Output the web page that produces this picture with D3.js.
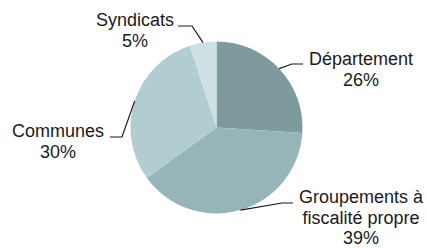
<!DOCTYPE html>
<html>
<head>
<meta charset="utf-8">
<script src="https://cdn.jsdelivr.net/npm/d3@7"></script>
<style>
  body { margin: 0; background: #fff; }
  text { font-family: "Liberation Sans", Arial, Helvetica, sans-serif; font-size: 18px; fill: #1a1a1a; }
</style>
</head>
<body>
<div id="chart"></div>
<script>
// values (clockwise from 12 o'clock)
const labels = ["Département", "Groupements à\nfiscalité propre", "Communes", "Syndicats"];
const values = [26, 39, 30, 5];
const colors = ["#7f9a9c", "#96b5b9", "#b1cdd1", "#cfe0e4"];

const w = 427, h = 248;
const cx = 216.5, cy = 127.5, r = 86;

// label layout: text anchor point + elbow of the leader line + end of leader line
const labelPos = [
    { x: 361, y: 65, elbow: [292, 64], end: [303, 64] },
    { x: 361, y: 203, elbow: [282, 203], end: [293, 203] },
    { x: 58, y: 137, elbow: [122, 137], end: [110, 137] },
    { x: 135, y: 26, elbow: [192, 26], end: [178, 26] }
];

const svg = d3.select("#chart").append("svg")
    .attr("width", w)
    .attr("height", h);

const pie = d3.pie().sort(null).value(d => d);
const arcs = pie(values);

const arc = d3.arc().innerRadius(0).outerRadius(r);

const g = svg.append("g").attr("transform", `translate(${cx},${cy})`);

g.selectAll("path")
    .data(arcs)
    .join("path")
    .attr("d", arc)
    .attr("fill", (d, i) => colors[i]);

// leader lines start on the rim at each slice's mid angle
const line = d3.line();
svg.append("g")
    .selectAll("path")
    .data(arcs)
    .join("path")
    .attr("fill", "none")
    .attr("stroke", "#1a1a1a")
    .attr("stroke-width", 1.2)
    .attr("d", (d, i) => {
        const a = (d.startAngle + d.endAngle) / 2;
        const start = [cx + r * Math.sin(a), cy - r * Math.cos(a)];
        return line([start, labelPos[i].elbow, labelPos[i].end]);
    });

// labels
const lab = svg.append("g")
    .selectAll("text")
    .data(arcs)
    .join("text")
    .attr("text-anchor", "middle")
    .attr("x", (d, i) => labelPos[i].x)
    .attr("y", (d, i) => labelPos[i].y);

lab.each(function(d, i) {
    const lines = labels[i].split("\n").concat([values[i] + "%"]);
    const t = d3.select(this);
    lines.forEach((s, k) => {
        t.append("tspan")
            .attr("x", labelPos[i].x)
            .attr("dy", k === 0 ? 0 : 20.5)
            .text(s);
    });
});
</script>
</body>
</html>
